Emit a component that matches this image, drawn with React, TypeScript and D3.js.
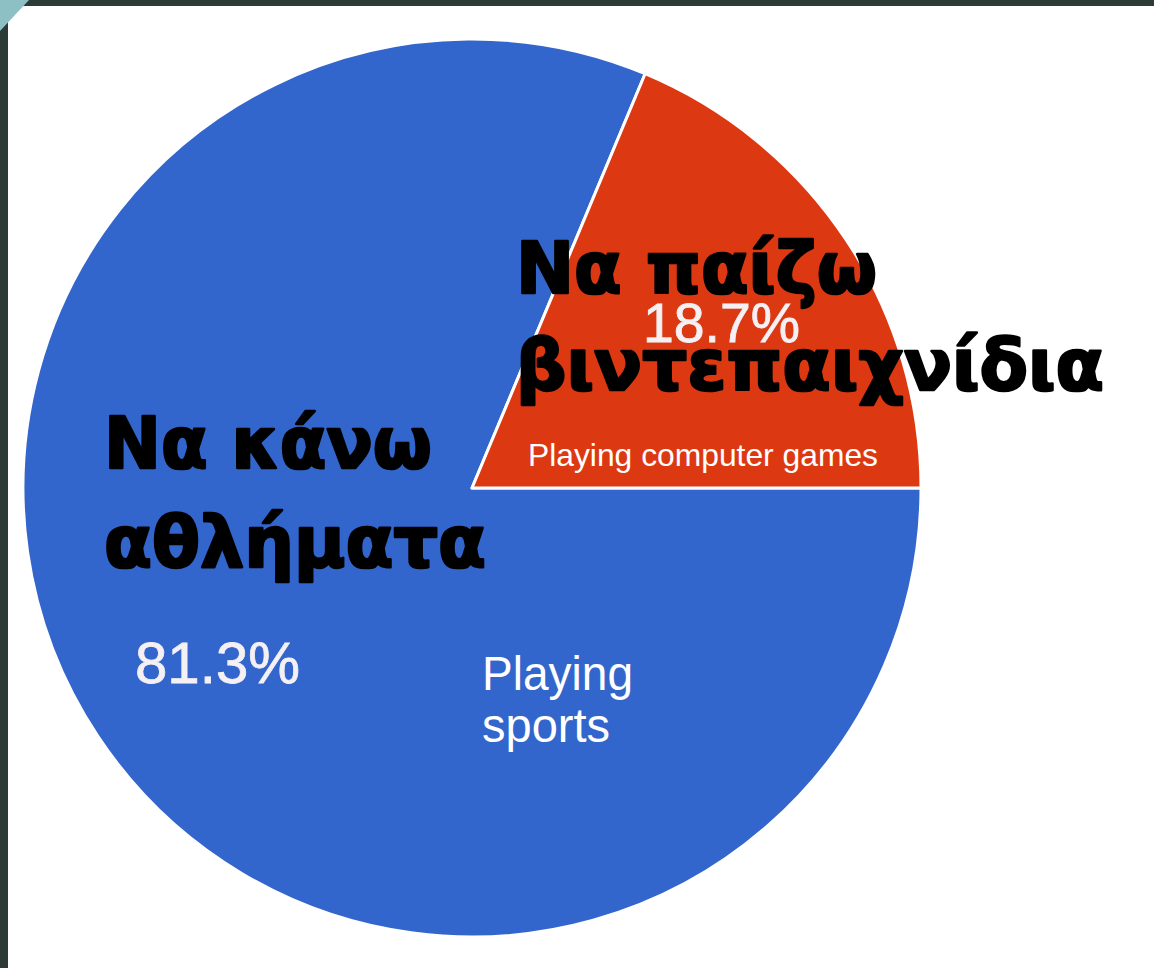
import React from "react";
import * as d3 from "d3";

const categories = ["Να κάνω αθλήματα", "Να παίζω βιντεπαιχνίδια"];
const values = [81.3, 18.7];
const colors = ["#3366CC", "#DC3912"];
const percentLabels = ["81.3%", "18.7%"];
const greekLines = [["Να κάνω", "αθλήματα"], ["Να παίζω", "βιντεπαιχνίδια"]];
const englishLines = [["Playing", "sports"], ["Playing computer games"]];

const W = 1154;
const H = 968;
const cx = 472;
const cy = 488;
const R = 449;

export default function App() {
  const data = categories.map((c, i) => ({ c, v: values[i], i }));
  const pie = d3
    .pie<any>()
    .value((d: any) => d.v)
    .sort(null)
    .startAngle(Math.PI / 2)
    .endAngle(Math.PI / 2 + 2 * Math.PI);
  const arcs = pie(data);
  const arc = d3.arc<any>().innerRadius(0).outerRadius(R);

  const greekFont = "'DejaVu Sans', sans-serif";
  const latinFont = "'Liberation Sans', Arial, sans-serif";

  return (
    <svg
      width={W}
      height={H}
      style={{ position: "absolute", left: 0, top: 0, background: "#fff" }}
    >
      <rect x={0} y={0} width={W} height={H} fill="#ffffff" />
      <rect x={0} y={0} width={W} height={6} fill="#2C3B35" />
      <rect x={0} y={0} width={8} height={H} fill="#2C3B35" />
      <polygon points="0,0 29,0 0,31" fill="#8CC0C4" />

      <g transform={`translate(${cx},${cy})`}>
        {arcs.map((a, i) => (
          <path
            key={i}
            d={arc(a) as string}
            fill={colors[i]}
            stroke="#ffffff"
            strokeWidth={3}
            strokeLinejoin="round"
          />
        ))}
      </g>

      {/* Greek labels */}
      <g
        fontFamily={greekFont}
        fontWeight="bold"
        fill="#000"
        stroke="#000"
        strokeWidth={2.5}
        strokeLinejoin="round"
        fontSize={71}
      >
        <text x={104} y={468} textLength={328} lengthAdjust="spacingAndGlyphs">
          {greekLines[0][0]}
        </text>
        <text x={104} y={567} textLength={382} lengthAdjust="spacingAndGlyphs">
          {greekLines[0][1]}
        </text>
        <text x={516} y={293} textLength={361} lengthAdjust="spacingAndGlyphs">
          {greekLines[1][0]}
        </text>
        <text x={516} y={390} textLength={588} lengthAdjust="spacingAndGlyphs">
          {greekLines[1][1]}
        </text>
      </g>

      {/* percentage labels */}
      <g fontFamily={latinFont} fill="#F4F0F4" stroke="#F4F0F4" strokeWidth={0.8}>
        <text x={135} y={683} fontSize={58} textLength={165} lengthAdjust="spacingAndGlyphs">
          {percentLabels[0]}
        </text>
        <text x={643} y={342} fontSize={55} textLength={157} lengthAdjust="spacingAndGlyphs">
          {percentLabels[1]}
        </text>
      </g>

      {/* English labels */}
      <g fontFamily={latinFont} fill="#ffffff">
        <text x={482} y={690} fontSize={48} textLength={151} lengthAdjust="spacingAndGlyphs">
          {englishLines[0][0]}
        </text>
        <text x={482} y={742} fontSize={48} textLength={128} lengthAdjust="spacingAndGlyphs">
          {englishLines[0][1]}
        </text>
        <text x={528} y={466} fontSize={32} textLength={350} lengthAdjust="spacingAndGlyphs">
          {englishLines[1][0]}
        </text>
      </g>
    </svg>
  );
}
